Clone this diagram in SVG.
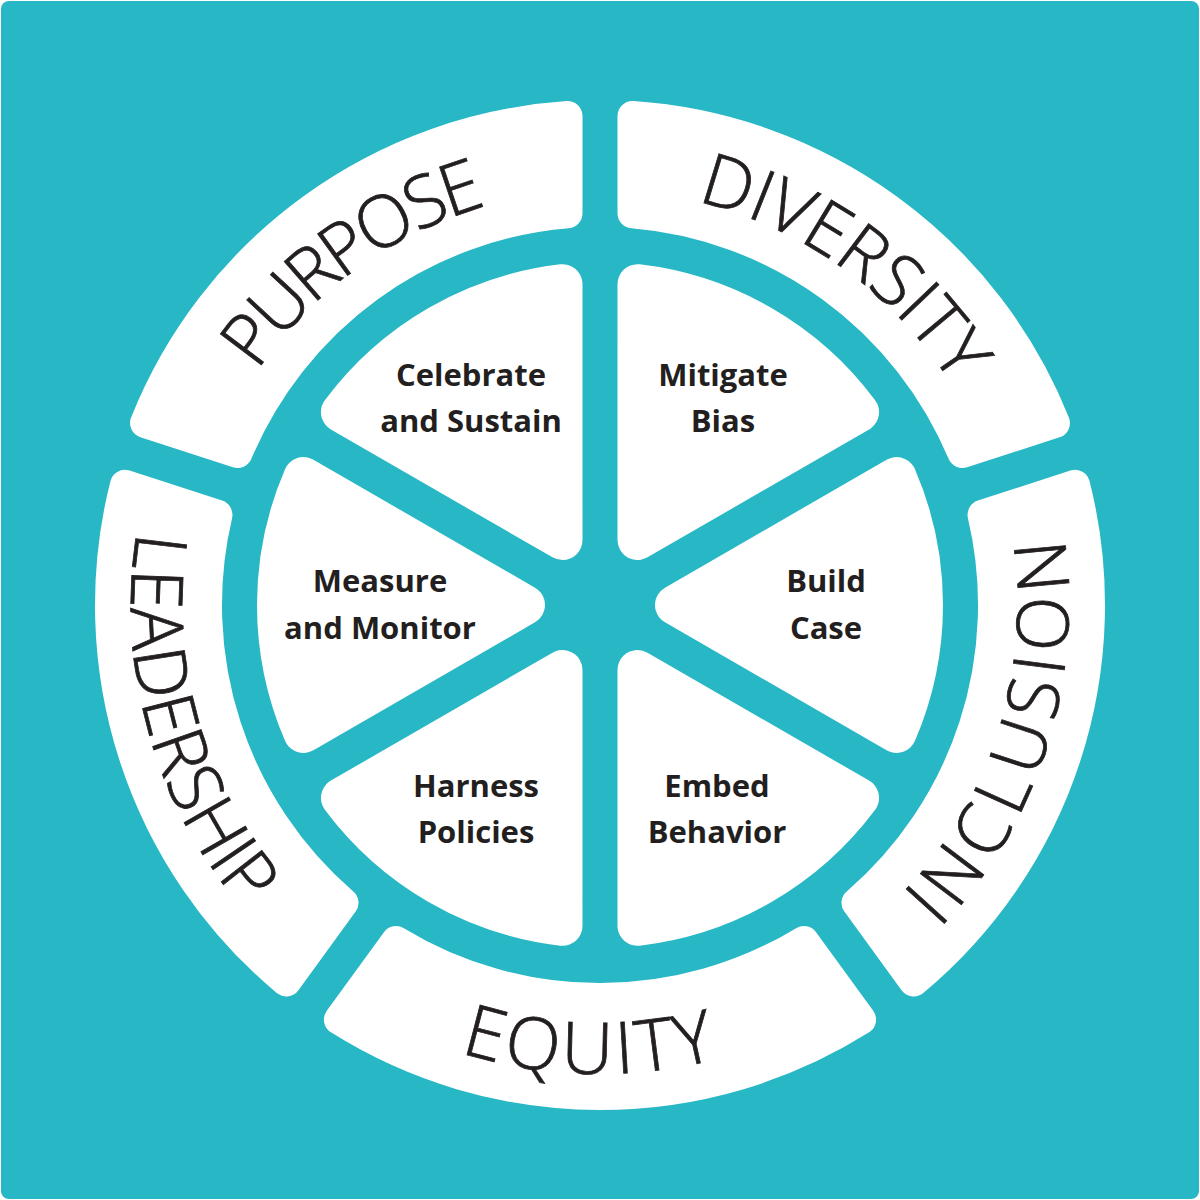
<svg xmlns="http://www.w3.org/2000/svg" xmlns:xlink="http://www.w3.org/1999/xlink" width="1200" height="1200" viewBox="0 0 1200 1200">
<defs>
<style>
.seg{fill:#ffffff;stroke:#ffffff;stroke-width:30;stroke-linejoin:round}
.wed{fill:#ffffff;stroke:#ffffff;stroke-width:40;stroke-linejoin:round}
.big{font-family:"Open Sans","Liberation Sans",sans-serif;font-weight:300;font-size:72px;fill:#231f20;stroke:#231f20;stroke-width:0.8}
.lbl{font-family:"Open Sans","Liberation Sans",sans-serif;font-weight:700;font-size:31px;fill:#231f20;text-anchor:middle}
</style>
<path id="segShape" d="M 1014.65 343.91 A 490 490 0 0 1 1014.65 866.09 L 935.96 808.92 A 393 393 0 0 0 935.96 401.08 Z"/>
<path id="wedShape" d="M 675 605 L 896.59 477.07 A 323 323 0 0 1 896.59 732.93 Z"/>
<path id="cw" d="M 672.06 196.30 A 415 415 0 0 1 672.06 1013.70" fill="none"/>
<path id="ccw" d="M 681.44 1066.87 A 469 469 0 0 0 681.44 143.13" fill="none"/>
</defs>
<rect x="0" y="0" width="1200" height="1200" fill="#ffffff"/>
<rect x="1" y="1" width="1198" height="1198" rx="8" fill="#28b7c4"/>

<g id="ring-purpose">
<use href="#segShape" class="seg" transform="rotate(-126 600 605)"/>
<g transform="rotate(-126 600 605)"><text class="big" letter-spacing="-4"><textPath href="#cw" startOffset="50%" text-anchor="middle">PURPOSE</textPath></text></g>
</g>
<g id="ring-diversity">
<use href="#segShape" class="seg" transform="rotate(-54 600 605)"/>
<g transform="rotate(-54.3 600 605)"><text class="big" letter-spacing="-0.5"><textPath href="#cw" startOffset="50%" text-anchor="middle">DIVERSITY</textPath></text></g>
</g>
<g id="ring-inclusion">
<use href="#segShape" class="seg" transform="rotate(18 600 605)"/>
<g transform="rotate(17.3 600 605)"><text class="big" letter-spacing="7"><textPath href="#ccw" startOffset="50%" text-anchor="middle">INCLUSION</textPath></text></g>
</g>
<g id="ring-equity">
<use href="#segShape" class="seg" transform="rotate(90 600 605)"/>
<g transform="rotate(91.2 600 605)"><text class="big" letter-spacing="4"><textPath href="#ccw" startOffset="50%" text-anchor="middle">EQUITY</textPath></text></g>
</g>
<g id="ring-leadership">
<use href="#segShape" class="seg" transform="rotate(162 600 605)"/>
<g transform="rotate(164.3 600 605)"><text class="big"><textPath href="#ccw" startOffset="50%" text-anchor="middle">LEADERSHIP</textPath></text></g>
</g>

<g id="wedge-celebrate">
<use href="#wedShape" class="wed" transform="rotate(240 600 605)"/>
<text class="lbl" x="471" y="386">Celebrate</text>
<text class="lbl" x="471" y="432">and Sustain</text>
</g>
<g id="wedge-mitigate">
<use href="#wedShape" class="wed" transform="rotate(-60 600 605)"/>
<text class="lbl" x="723" y="386">Mitigate</text>
<text class="lbl" x="723" y="432">Bias</text>
</g>
<g id="wedge-build">
<use href="#wedShape" class="wed"/>
<text class="lbl" x="826" y="592">Build</text>
<text class="lbl" x="826" y="639">Case</text>
</g>
<g id="wedge-embed">
<use href="#wedShape" class="wed" transform="rotate(60 600 605)"/>
<text class="lbl" x="717" y="797">Embed</text>
<text class="lbl" x="717" y="843">Behavior</text>
</g>
<g id="wedge-harness">
<use href="#wedShape" class="wed" transform="rotate(120 600 605)"/>
<text class="lbl" x="476" y="797">Harness</text>
<text class="lbl" x="476" y="843">Policies</text>
</g>
<g id="wedge-measure">
<use href="#wedShape" class="wed" transform="rotate(180 600 605)"/>
<text class="lbl" x="380" y="592">Measure</text>
<text class="lbl" x="380" y="639">and Monitor</text>
</g>
<g id="connectors"></g>
</svg>
